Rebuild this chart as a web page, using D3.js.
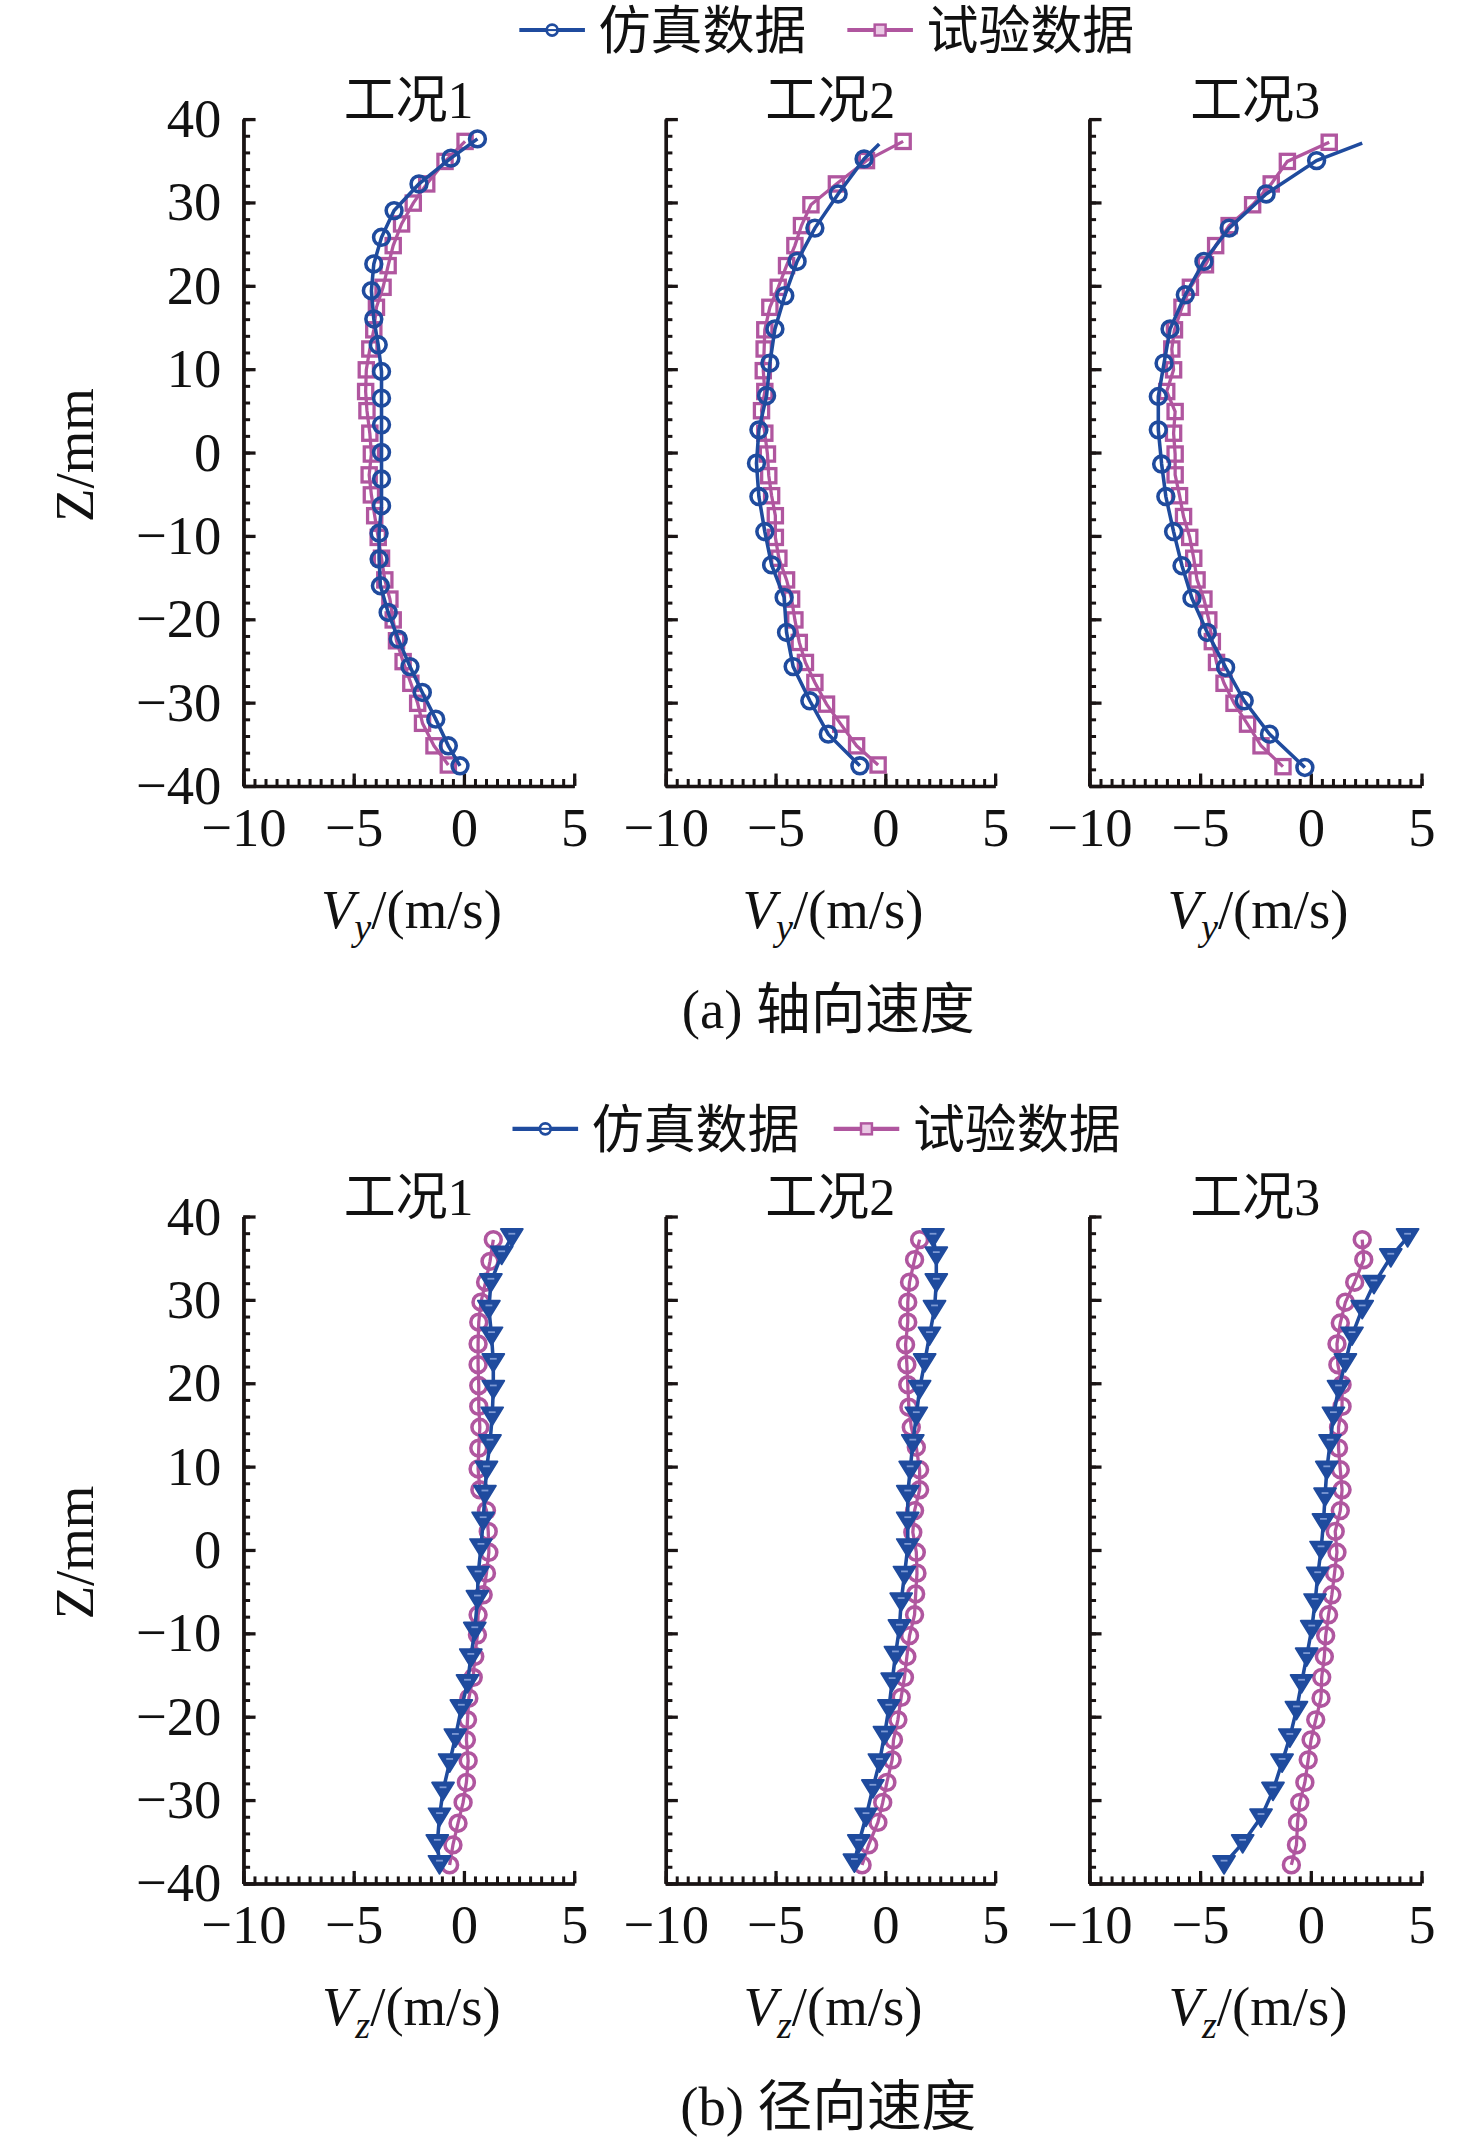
<!DOCTYPE html>
<html><head><meta charset="utf-8">
<script src="https://cdn.jsdelivr.net/npm/d3@7"></script>
<style>html,body{margin:0;padding:0;background:#fff}</style>
</head><body>
<svg id="chart" width="1476" height="2138" viewBox="0 0 1080 1564.4"></svg>
<script>
// ---------- data ----------
const caseNames = ["工况1", "工况2", "工况3"];
const seriesNames = ["仿真数据", "试验数据"];
const xTickValues = [-10, -5, 0, 5];
const yTickValues = [-40, -30, -20, -10, 0, 10, 20, 30, 40];
const captions = ["(a) 轴向速度", "(b) 径向速度"];

// axial velocity Vy (m/s) vs Z (mm) : [V, Z]
const axialSim1 = [[0.62,37.6],[-0.58,35.3],[-2.03,32.2],[-3.16,29.0],[-3.73,25.8],[-4.08,22.6],[-4.19,19.4],[-4.08,16.0],[-3.88,12.9],[-3.73,9.7],[-3.73,6.5],[-3.73,3.3],[-3.73,0.0],[-3.73,-3.2],[-3.73,-6.4],[-3.84,-9.7],[-3.84,-12.8],[-3.78,-16.0],[-3.43,-19.2],[-2.97,-22.4],[-2.44,-25.7],[-1.88,-28.8],[-1.27,-32.0],[-0.70,-35.2],[-0.17,-37.6]];
const axialExp1 = [[0.06,37.3],[-0.85,34.9],[-1.68,32.2],[-2.29,29.9],[-2.82,27.4],[-3.20,24.8],[-3.43,22.4],[-3.66,19.8],[-3.96,17.4],[-4.08,14.7],[-4.26,12.4],[-4.42,9.9],[-4.45,7.3],[-4.39,5.0],[-4.26,2.3],[-4.19,-0.2],[-4.29,-2.7],[-4.19,-5.1],[-4.04,-7.6],[-3.88,-10.2],[-3.73,-12.7],[-3.58,-15.3],[-3.35,-17.6],[-3.20,-20.1],[-3.05,-22.6],[-2.75,-25.1],[-2.40,-27.7],[-2.09,-30.1],[-1.87,-32.5],[-1.35,-35.2],[-0.70,-37.5]];
const axialSim2 = [[-0.96,35.2],[-2.14,31.0],[-3.20,26.9],[-4.01,22.9],[-4.57,18.8],[-5.02,14.8],[-5.25,10.7],[-5.40,6.8],[-5.75,2.7],[-5.86,-1.3],[-5.75,-5.3],[-5.48,-9.5],[-5.17,-13.5],[-4.60,-17.4],[-4.49,-21.6],[-4.19,-25.7],[-3.43,-29.8],[-2.59,-33.8],[-1.15,-37.6]];
const axialExp2 = [[0.82,37.3],[-0.85,35.0],[-2.22,32.2],[-3.38,29.7],[-3.81,27.2],[-4.11,24.8],[-4.49,22.4],[-4.87,19.8],[-5.25,17.4],[-5.48,14.7],[-5.51,12.4],[-5.55,9.8],[-5.48,7.3],[-5.63,5.0],[-5.48,2.3],[-5.36,-0.2],[-5.30,-2.8],[-5.17,-5.2],[-5.00,-7.6],[-5.00,-10.2],[-4.84,-12.7],[-4.49,-15.3],[-4.26,-17.6],[-4.11,-20.1],[-3.91,-22.8],[-3.63,-25.2],[-3.20,-27.6],[-2.67,-30.2],[-2.02,-32.6],[-1.30,-35.2],[-0.32,-37.5]];
const axialSim3 = [[0.27,35.0],[-2.01,31.0],[-3.68,26.9],[-4.82,22.9],[-5.66,18.9],[-6.35,14.8],[-6.62,10.7],[-6.88,6.7],[-6.88,2.7],[-6.73,-1.4],[-6.54,-5.3],[-6.19,-9.5],[-5.81,-13.6],[-5.36,-17.5],[-4.67,-21.6],[-3.84,-25.8],[-3.00,-29.8],[-1.86,-33.8],[-0.26,-37.8]];
const axialExp3 = [[0.84,37.2],[-1.05,34.9],[-1.78,32.2],[-2.62,29.7],[-3.68,27.2],[-4.29,24.8],[-4.75,22.5],[-5.43,19.8],[-5.81,17.4],[-6.15,14.7],[-6.27,12.4],[-6.19,9.9],[-6.50,7.3],[-6.12,4.9],[-6.19,2.3],[-6.12,-0.2],[-6.12,-2.7],[-5.92,-5.2],[-5.74,-7.7],[-5.46,-10.2],[-5.28,-12.7],[-5.13,-15.3],[-4.82,-17.6],[-4.60,-20.1],[-4.44,-22.7],[-4.25,-25.2],[-3.91,-27.7],[-3.46,-30.1],[-2.85,-32.6],[-2.24,-35.2],[-1.25,-37.7]];
// simulated curve end points beyond the last marker (line only)
const axialSimTips = [null, [-0.27,37.0], [2.33,37.1]];

// radial velocity Vz (m/s) vs Z (mm) : [V, Z]
const radialSim1 = [[2.18,37.5],[1.72,35.4],[1.23,32.1],[1.14,28.9],[1.26,25.7],[1.34,22.5],[1.34,19.3],[1.29,16.1],[1.19,12.8],[1.03,9.6],[0.96,6.7],[0.88,3.5],[0.78,0.3],[0.65,-3.0],[0.62,-5.9],[0.50,-9.7],[0.32,-12.9],[0.17,-16.0],[-0.11,-19.0],[-0.38,-22.5],[-0.64,-25.5],[-0.94,-28.9],[-1.10,-32.0],[-1.20,-35.2],[-1.10,-37.7]];
const radialExp1 = [[1.34,37.2],[1.19,34.6],[0.99,32.1],[0.78,29.7],[0.68,27.3],[0.65,24.7],[0.65,22.2],[0.68,19.7],[0.68,17.2],[0.73,14.7],[0.68,12.2],[0.65,9.7],[0.73,7.2],[1.03,4.7],[1.11,2.2],[1.14,-0.3],[1.03,-2.8],[0.88,-5.4],[0.65,-7.8],[0.62,-10.2],[0.50,-12.8],[0.43,-15.3],[0.23,-17.8],[0.17,-20.4],[0.12,-22.8],[0.20,-25.3],[0.12,-27.9],[-0.03,-30.3],[-0.26,-32.8],[-0.49,-35.4],[-0.64,-37.8]];
const radialSim2 = [[2.18,37.5],[2.33,35.3],[2.33,32.1],[2.25,28.9],[2.02,25.7],[1.80,22.5],[1.57,19.3],[1.42,16.1],[1.26,12.8],[1.14,9.6],[1.03,6.7],[1.03,3.5],[1.03,0.3],[0.88,-3.0],[0.73,-6.2],[0.65,-9.4],[0.47,-12.6],[0.32,-15.8],[0.17,-19.0],[-0.03,-22.2],[-0.26,-25.5],[-0.56,-28.6],[-0.87,-32.0],[-1.20,-35.2],[-1.40,-37.5]];
const radialExp2 = [[1.57,37.2],[1.34,34.8],[1.11,32.1],[1.03,29.7],[1.03,27.3],[0.93,24.6],[0.99,22.2],[1.03,19.8],[1.08,17.1],[1.19,14.7],[1.42,12.3],[1.57,9.6],[1.57,7.2],[1.34,4.7],[1.26,2.1],[1.42,-0.3],[1.45,-2.8],[1.39,-5.3],[1.34,-7.8],[1.11,-10.3],[0.99,-12.8],[0.88,-15.3],[0.73,-17.7],[0.58,-20.4],[0.38,-22.8],[0.32,-25.2],[0.08,-27.9],[-0.11,-30.3],[-0.33,-32.7],[-0.75,-35.4],[-1.05,-37.8]];
const radialSim3 = [[4.38,37.5],[3.62,35.1],[2.86,31.9],[2.33,28.9],[1.87,25.7],[1.57,22.5],[1.26,19.3],[1.03,16.1],[0.88,12.8],[0.73,9.6],[0.65,6.4],[0.58,3.3],[0.47,0.0],[0.32,-3.1],[0.20,-6.3],[0.05,-9.5],[-0.18,-12.8],[-0.41,-16.0],[-0.64,-19.2],[-0.94,-22.5],[-1.29,-25.5],[-1.70,-28.9],[-2.24,-32.1],[-3.07,-35.2],[-3.91,-37.7]];
const radialExp3 = [[2.33,37.2],[2.40,34.8],[1.99,32.1],[1.57,29.7],[1.34,27.2],[1.19,24.7],[1.23,22.2],[1.42,19.8],[1.42,17.2],[1.26,14.7],[1.26,12.2],[1.34,9.6],[1.42,7.2],[1.34,4.7],[1.11,2.2],[1.19,-0.3],[1.08,-2.8],[0.96,-5.4],[0.81,-7.8],[0.68,-10.3],[0.62,-12.8],[0.50,-15.3],[0.47,-17.8],[0.23,-20.4],[0.02,-22.8],[-0.11,-25.2],[-0.26,-27.9],[-0.49,-30.3],[-0.59,-32.7],[-0.64,-35.4],[-0.87,-37.8]];

// ---------- styles / layout ----------
const BLUE = "#1f4b9e", PINK = "#b0569f", AXIS = "#1a1414";
const LATIN = "'Liberation Serif','Times New Roman',serif";
const MIXED = "'Liberation Serif','Noto Sans CJK SC',serif";
const panelXs = [[178, 420], [487, 728], [797, 1040]];
const svg = d3.select("#chart");
const fmt = d => d < 0 ? "\u2212" + Math.abs(d) : String(d);

function marker(g, type, color, x, y) {
  if (type === "circle") {
    g.append("circle").attr("cx", x).attr("cy", y).attr("r", 5.8)
      .attr("fill", "none").attr("stroke", color).attr("stroke-width", 2.6);
  } else if (type === "square") {
    g.append("rect").attr("x", x - 5.2).attr("y", y - 5.2).attr("width", 10.4).attr("height", 10.4)
      .attr("fill", "none").attr("stroke", color).attr("stroke-width", 2.4);
  } else if (type === "triangle") {
    g.append("path").attr("d", `M${x-8},${y-6}L${x+8},${y-6}L${x},${y+7}Z`)
      .attr("fill", color).attr("stroke", color).attr("stroke-width", 1.4).attr("stroke-linejoin", "round");
    g.append("line").attr("x1", x - 2.5).attr("x2", x + 2.5).attr("y1", y - 2.5).attr("y2", y - 2.5)
      .attr("stroke", "#7d99d4").attr("stroke-width", 1.3);
  }
}

function drawBlock(cfg) {
  // legend
  const lg = svg.append("g");
  const legendItems = [
    {name: seriesNames[0], color: BLUE, m: "circle", x0: cfg.legendX[0]},
    {name: seriesNames[1], color: PINK, m: "square", x0: cfg.legendX[1]}
  ];
  legendItems.forEach(it => {
    lg.append("line").attr("x1", it.x0).attr("x2", it.x0 + 48).attr("y1", cfg.legendY).attr("y2", cfg.legendY)
      .attr("stroke", it.color).attr("stroke-width", 3);
    if (it.m === "circle") {
      lg.append("circle").attr("cx", it.x0 + 24).attr("cy", cfg.legendY).attr("r", 4)
        .attr("fill", "#fff").attr("stroke", it.color).attr("stroke-width", 2);
      lg.append("line").attr("x1", it.x0 + 20).attr("x2", it.x0 + 28).attr("y1", cfg.legendY).attr("y2", cfg.legendY)
        .attr("stroke", it.color).attr("stroke-width", 1.5);
    } else {
      lg.append("rect").attr("x", it.x0 + 20).attr("y", cfg.legendY - 4).attr("width", 8).attr("height", 8)
        .attr("fill", "#e9c8e4").attr("stroke", it.color).attr("stroke-width", 1.8);
    }
    lg.append("text").attr("x", it.x0 + 58).attr("y", cfg.legendY + 14)
      .attr("font-family", MIXED).attr("font-size", 38).attr("fill", "#111").text(it.name);
  });

  cfg.series.forEach((s, i) => {
    const [x0, x1] = panelXs[i];
    const x = d3.scaleLinear().domain([-10, 5]).range([x0, x1]);
    const y = d3.scaleLinear().domain([-40, 40]).range([cfg.bottom, cfg.top]);
    const g = svg.append("g");

    // subtitle
    g.append("text").attr("x", (x0 + x1) / 2).attr("y", cfg.top - 1).attr("text-anchor", "middle")
      .attr("font-family", MIXED).attr("font-size", 38).attr("fill", "#111").text(caseNames[i]);

    // axes: minor ticks
    g.append("g").attr("transform", `translate(${x0},0)`)
      .call(d3.axisLeft(y).tickValues(d3.range(-40, 40.01, 2)).tickSize(-5).tickSizeOuter(0).tickFormat(""))
      .call(a => a.selectAll("line,path").attr("stroke", AXIS).attr("stroke-width", 2.2));
    g.append("g").attr("transform", `translate(0,${cfg.bottom})`)
      .call(d3.axisBottom(x).tickValues(d3.range(-10, 5.01, 0.5)).tickSize(-5).tickSizeOuter(0).tickFormat(""))
      .call(a => a.selectAll("line,path").attr("stroke", AXIS).attr("stroke-width", 2.2));
    // major ticks + labels
    g.append("g").attr("transform", `translate(${x0},0)`)
      .call(d3.axisLeft(y).tickValues(yTickValues).tickSize(-9).tickSizeOuter(0).tickPadding(16).tickFormat(i === 0 ? fmt : ""))
      .call(a => { a.select(".domain").attr("stroke", AXIS).attr("stroke-width", 2.6);
        a.selectAll("line").attr("stroke", AXIS).attr("stroke-width", 2.4);
        a.selectAll("text").attr("font-family", LATIN).attr("font-size", 40).attr("fill", "#111"); });
    g.append("g").attr("transform", `translate(0,${cfg.bottom})`)
      .call(d3.axisBottom(x).tickValues(xTickValues).tickSize(-9).tickSizeOuter(0).tickPadding(6).tickFormat(fmt))
      .call(a => { a.select(".domain").attr("stroke", AXIS).attr("stroke-width", 2.6);
        a.selectAll("line").attr("stroke", AXIS).attr("stroke-width", 2.4);
        a.selectAll("text").attr("font-family", LATIN).attr("font-size", 40).attr("fill", "#111").attr("dy", "0.95em"); });

    // x label
    const xl = g.append("text").attr("x", (x0 + x1) / 2 + 2).attr("y", cfg.bottom + 104).attr("text-anchor", "middle")
      .attr("font-family", LATIN).attr("font-size", 40).attr("fill", "#111");
    xl.append("tspan").attr("font-style", "italic").text("V");
    xl.append("tspan").attr("font-style", "italic").attr("font-size", 28).attr("dy", 9).text(cfg.sub);
    xl.append("tspan").attr("dy", -9).text("/(m/s)");

    // series
    const line = d3.line().x(d => x(d[0])).y(d => y(d[1]));
    const exp = s.exp, sim = s.sim;
    g.append("path").attr("d", line(exp)).attr("fill", "none").attr("stroke", PINK).attr("stroke-width", 2.4);
    exp.forEach(d => marker(g, cfg.expMarker, PINK, x(d[0]), y(d[1])));
    const simLine = s.tip ? [s.tip].concat(sim) : sim;
    g.append("path").attr("d", line(simLine)).attr("fill", "none").attr("stroke", BLUE).attr("stroke-width", 2.6);
    sim.forEach(d => marker(g, cfg.simMarker, BLUE, x(d[0]), y(d[1])));
  });

  // y label
  svg.append("text").attr("transform", `translate(68,${(cfg.top + cfg.bottom) / 2 + 2}) rotate(-90)`)
    .attr("text-anchor", "middle").attr("font-family", LATIN).attr("font-size", 40).attr("fill", "#111").text("Z/mm");
  // caption
  svg.append("text").attr("x", 606).attr("y", cfg.captionY).attr("text-anchor", "middle")
    .attr("font-family", MIXED).attr("font-size", 40).attr("fill", "#111").text(cfg.caption);
}

drawBlock({
  top: 87, bottom: 575, legendY: 22, legendX: [380, 620], captionY: 752, caption: captions[0], sub: "y",
  simMarker: "circle", expMarker: "square",
  series: [
    {sim: axialSim1, exp: axialExp1, tip: axialSimTips[0]},
    {sim: axialSim2, exp: axialExp2, tip: axialSimTips[1]},
    {sim: axialSim3, exp: axialExp3, tip: axialSimTips[2]}
  ]
});
drawBlock({
  top: 890, bottom: 1378, legendY: 826, legendX: [375, 610], captionY: 1555, caption: captions[1], sub: "z",
  simMarker: "triangle", expMarker: "circle",
  series: [
    {sim: radialSim1, exp: radialExp1, tip: null},
    {sim: radialSim2, exp: radialExp2, tip: null},
    {sim: radialSim3, exp: radialExp3, tip: null}
  ]
});
</script>
</body></html>
